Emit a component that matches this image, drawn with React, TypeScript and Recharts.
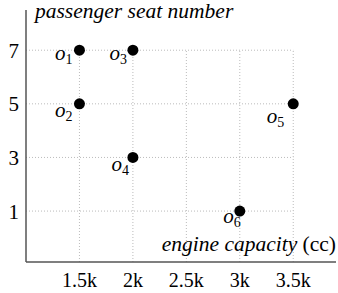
import React from "react";
import { ScatterChart, Scatter, XAxis, YAxis, ReferenceLine, Label } from "recharts";

const pointNames = ["1", "2", "3", "4", "5", "6"];
const engineCapacity = [1500, 1500, 2000, 2000, 3500, 3000];
const seatNumber = [7, 5, 7, 3, 5, 1];
const xTicks = [1500, 2000, 2500, 3000, 3500];
const xTickLabels = ["1.5k", "2k", "2.5k", "3k", "3.5k"];
const yTicks = [1, 3, 5, 7];

// label offsets (style) for each point's text, relative to the dot
const labelOffsets: Record<string, [number, number]> = {
  "1": [-7, 10],
  "2": [-7, 13],
  "3": [-6, 10],
  "4": [-4, 14],
  "5": [-9, 19],
  "6": [1, 12],
};

const data = pointNames.map((n, i) => ({ name: n, x: engineCapacity[i], y: seatNumber[i] }));

const FONT = "Liberation Serif, Times New Roman, serif";
const X_DOMAIN: [number, number] = [1000, 3900];
const Y_DOMAIN: [number, number] = [-0.9, 8.5];

const PointShape = (props: any) => {
  const { cx, cy, payload } = props;
  const [dx, dy] = labelOffsets[payload.name] || [-7, 10];
  return (
    <g>
      <circle cx={cx} cy={cy} r={5.5} fill="#000" />
      <text x={cx + dx} y={cy + dy} textAnchor="end" style={{ fontFamily: FONT, fontSize: 21 }} fill="#000">
        <tspan style={{ fontStyle: "italic" }}>o</tspan>
        <tspan style={{ fontSize: 14 }} dy={4}>{payload.name}</tspan>
      </text>
    </g>
  );
};

export default function App() {
  return (
    <div style={{ position: "absolute", left: 0, top: 0, width: 338, height: 293, background: "#fff", fontFamily: FONT }}>
      <ScatterChart width={338} height={293} margin={{ top: 10, right: 2, bottom: 0, left: 0 }} style={{ fontFamily: FONT }}>
        <XAxis
          type="number"
          dataKey="x"
          domain={X_DOMAIN}
          ticks={xTicks}
          tickFormatter={(v: number) => xTickLabels[xTicks.indexOf(v)] ?? String(v)}
          height={31}
          tickLine={false}
          tickMargin={5}
          axisLine={{ stroke: "#555", strokeWidth: 1.5 }}
          tick={{ fill: "#000", fontSize: 20, style: { fontFamily: FONT } }}
          allowDataOverflow
        >
          <Label
            content={() => (
              <text x={336} y={251} textAnchor="end" style={{ fontFamily: FONT, fontSize: 21.5 }} fill="#000">
                <tspan style={{ fontStyle: "italic" }}>engine capacity</tspan>
                <tspan> (cc)</tspan>
              </text>
            )}
          />
        </XAxis>
        <YAxis
          type="number"
          dataKey="y"
          domain={Y_DOMAIN}
          ticks={yTicks}
          width={26}
          tickLine={false}
          tickMargin={1}
          axisLine={{ stroke: "#555", strokeWidth: 1.5 }}
          tick={{ fill: "#000", fontSize: 21, style: { fontFamily: FONT } }}
          allowDataOverflow
        >
          <Label
            content={() => (
              <text x={35} y={18} textAnchor="start" style={{ fontFamily: FONT, fontSize: 21.5, fontStyle: "italic" }} fill="#000">
                passenger seat number
              </text>
            )}
          />
        </YAxis>
        {xTicks.map((t) => (
          <ReferenceLine
            key={"vx" + t}
            segment={[
              { x: t, y: Y_DOMAIN[0] },
              { x: t, y: yTicks[yTicks.length - 1] },
            ]}
            stroke="#bbb"
            strokeDasharray="1 2"
            strokeWidth={1}
            ifOverflow="visible"
          />
        ))}
        {yTicks.map((t) => (
          <ReferenceLine
            key={"hy" + t}
            segment={[
              { x: X_DOMAIN[0], y: t },
              { x: xTicks[xTicks.length - 1], y: t },
            ]}
            stroke="#bbb"
            strokeDasharray="1 2"
            strokeWidth={1}
            ifOverflow="visible"
          />
        ))}
        <Scatter data={data} shape={PointShape} isAnimationActive={false} />
      </ScatterChart>
    </div>
  );
}
